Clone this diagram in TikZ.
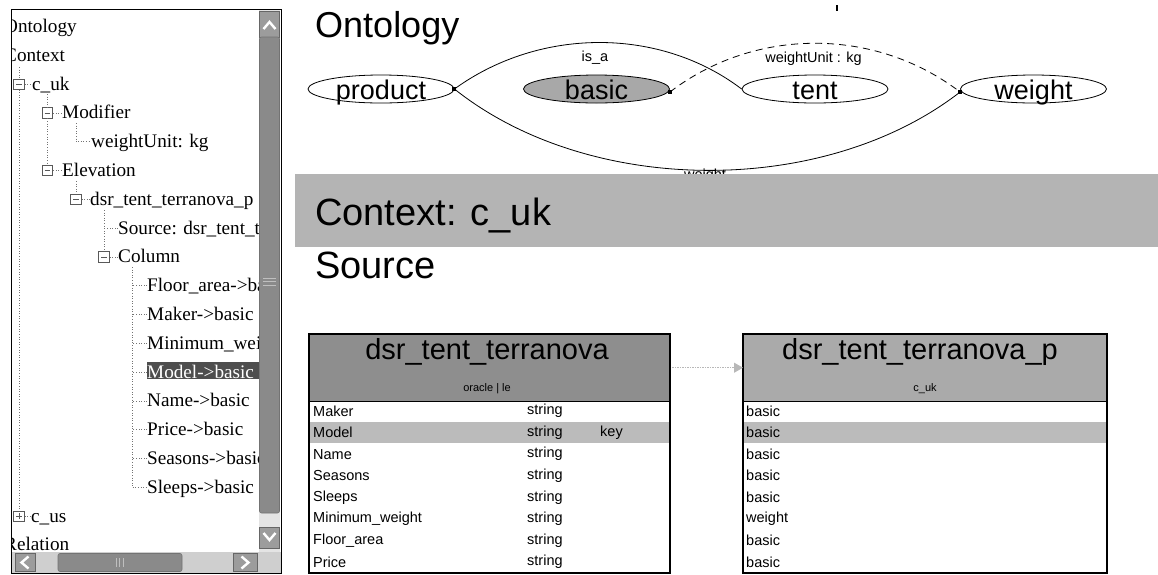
\documentclass[tikz,border=0pt]{standalone}
\usepackage{fontspec}
\setmainfont{Liberation Serif}
\setsansfont{Liberation Sans}
\usetikzlibrary{shapes.geometric,arrows.meta}

\definecolor{bandgray}{HTML}{B4B4B4}
\definecolor{hdrdark}{HTML}{8E8E8E}
\definecolor{hdrlight}{HTML}{AAAAAA}
\definecolor{rowhl}{HTML}{BBBBBB}
\definecolor{basicfill}{HTML}{A8A8A8}
\definecolor{selgray}{HTML}{4E4E4E}
\definecolor{sbthumb}{HTML}{8A8A8A}
\definecolor{sbbtn}{HTML}{9C9C9C}
\definecolor{sbtrack}{HTML}{E4E4E4}
\definecolor{hsbtrack}{HTML}{CFCFCF}
\definecolor{arrowgray}{HTML}{B8B8B8}

\begin{document}
\begin{tikzpicture}[x=1pt,y=-1pt,
  every node/.style={inner sep=0pt},
  tree/.style={anchor=base west, font=\fontsize{19.2}{20}\selectfont},
  xbox/.style={draw=black!65, fill=white, minimum size=10.5pt, line width=0.6pt},
  xminus/.style={xbox, path picture={\draw[line width=0.7pt]
      ([xshift=-2.8pt]path picture bounding box.center) -- ([xshift=2.8pt]path picture bounding box.center);}},
  xplus/.style={xbox, path picture={\draw[line width=0.7pt]
      ([xshift=-2.8pt]path picture bounding box.center) -- ([xshift=2.8pt]path picture bounding box.center)
      ([yshift=-2.8pt]path picture bounding box.center) -- ([yshift=2.8pt]path picture bounding box.center);}},
  treeline/.style={draw=black!55, dotted, line width=0.6pt},
  title/.style={anchor=base west, font=\sffamily\fontsize{38}{40}\selectfont},
  ent/.style={ellipse, draw, line width=0.8pt, minimum width=146pt, minimum height=28pt},
  efont/.style={anchor=base, font=\sffamily\fontsize{27}{28}\selectfont},
  dotsq/.style={fill=black, minimum size=4pt},
  rel/.style={line width=0.8pt},
  elabel/.style={font=\sffamily\fontsize{14.5}{15}\selectfont},
  thdr/.style={anchor=north west, minimum width=#1, minimum height=67pt},
  tbody/.style={anchor=north west, fill=white, minimum width=#1, minimum height=172pt},
  ttitle/.style={font=\sffamily\fontsize{29}{30}\selectfont},
  tsub/.style={font=\sffamily\fontsize{11}{12}\selectfont},
  tcell/.style={anchor=west, font=\sffamily\fontsize{14.5}{15}\selectfont},
  tarrow/.style={draw=arrowgray, line width=1pt, dash pattern=on 1.5pt off 1pt,
      -{Triangle[length=9pt,width=10pt,fill=arrowgray]}}
]
\useasboundingbox (0,0) rectangle (1158,574);

% ---------------- tree panel ----------------
\begin{scope}
\clip (11.5,9.5) rectangle (259,552);
% top level entries
\node[tree] (t0) at (4,32.5) {Ontology};
\node[tree] (t1) at (4,61.3) {Context};
% c_uk
\node[xminus] (b2) at (19,84.1) {};
\node[tree] (t2) at (32,90.1) {c\_uk};
\node[xminus] (b3) at (47.5,112.9) {};
\node[tree] (t3) at (62,118.9) {Modifier};
\node[tree] (t4) at (91,147.7) {weightUnit: kg};
\node[xminus] (b5) at (47.5,170.5) {};
\node[tree] (t5) at (62,176.5) {Elevation};
\node[xminus] (b6) at (76,199.3) {};
\node[tree] (t6) at (90,205.3) {dsr\_tent\_terranova\_p};
\node[tree] (t7) at (118,234.1) {Source: dsr\_tent\_terranova};
\node[xminus] (b8) at (104,256.9) {};
\node[tree] (t8) at (118,262.9) {Column};
\node[tree] (t9) at (147,291.7) {Floor\_area->basic};
\node[tree] (t10) at (147,320.5) {Maker->basic};
\node[tree] (t11) at (147,349.3) {Minimum\_weight->weight};
\node[tree, text=white, fill=selgray, text width=120pt, text depth=1pt, text height=16pt] (t12) at (147,378.1) {Model->basic};
\node[tree] (t13) at (147,406.9) {Name->basic};
\node[tree] (t14) at (147,435.7) {Price->basic};
\node[tree] (t15) at (147,464.5) {Seasons->basic};
\node[tree] (t16) at (147,493.3) {Sleeps->basic};
\node[xplus] (b17) at (19,516.1) {};
\node[tree] (t17) at (31,522.1) {c\_us};
\node[tree] (t18) at (4,550.9) {Relation};

% dotted tree connectors
\coordinate (c0) at (19,67);
\coordinate (c1) at (47.5,94);
\coordinate (c4) at (76,123);
\coordinate (c5) at (76,181);
\coordinate (c6) at (104,210);
\coordinate (c8) at (132,267);
\draw[treeline] (c0) -- (b2.north);
\draw[treeline] (b2.south) -- (b17.north);
\draw[treeline] (b2.east) -- (b2.east -| t2.west);
\draw[treeline] (b17.east) -- (b17.east -| t17.west);
\draw[treeline] (c1) -- (b3.north);
\draw[treeline] (b3.south) -- (b5.north);
\draw[treeline] (b3.east) -- (b3.east -| t3.west);
\draw[treeline] (b5.east) -- (b5.east -| t5.west);
\draw[treeline] (c4) |- ([yshift=6pt]t4.base west);
\draw[treeline] (c5) -- (b6.north);
\draw[treeline] (b6.east) -- (b6.east -| t6.west);
\draw[treeline] (c6) -- (b8.north);
\draw[treeline] ([yshift=6pt]t7.base west) -- ([yshift=6pt]t7.base west -| b8);
\draw[treeline] (b8.east) -- (b8.east -| t8.west);
\draw[treeline] (c8) |- ([yshift=6pt]t16.base west);
\foreach \k in {9,...,15}
  \draw[treeline] ([yshift=6pt]t\k.base west) -- ++(-15,0);
\end{scope}

% vertical scroll bar
\fill[sbtrack] (259,10) rectangle (280,552);
\draw[fill=sbbtn, draw=black!60, line width=0.6pt] (259.5,11) rectangle (279.5,37);
\draw[white, line width=2.4pt] (263.5,29) -- (269.5,22) -- (275.5,29);
\draw[fill=sbthumb, draw=black!55, line width=0.6pt, rounded corners=2pt] (259.5,37) rectangle (279.5,513);
\foreach \g in {278,281.5,285} \draw[black!25, line width=0.8pt] (263,\g) -- (276,\g);
\draw[fill=sbbtn, draw=black!60, line width=0.6pt] (259.5,527) rectangle (279.5,548);
\draw[white, line width=2.4pt] (263.5,533) -- (269.5,540) -- (275.5,533);

% horizontal scroll bar
\fill[hsbtrack] (12,552) rectangle (281,573);
\draw[fill=sbbtn, draw=black!60, line width=0.6pt] (15,553.5) rectangle (35,571.5);
\draw[white, line width=2.4pt] (28.5,556.5) -- (21.5,562.5) -- (28.5,568.5);
\draw[fill=sbthumb, draw=black!55, line width=0.6pt, rounded corners=2pt] (58,553.5) rectangle (182,571.5);
\foreach \g in {116,119.5,123} \draw[black!25, line width=0.8pt] (\g,558) -- (\g,567);
\draw[fill=sbbtn, draw=black!60, line width=0.6pt] (233,553.5) rectangle (257,571.5);
\draw[white, line width=2.4pt] (241.5,556.5) -- (248.5,562.5) -- (241.5,568.5);

% panel frame
\draw[line width=0.8pt] (11,9) rectangle (281.5,573.5);

% ---------------- ontology graph ----------------
\node[title, font=\sffamily\fontsize{36}{38}\selectfont] (ontt) at (315,37) {Ontology};
\draw[line width=1.6pt] (837,5) -- (837,11);

\node[ent] (product) at (381,89) {};
\node[ent, fill=basicfill] (basic) at (596.5,89) {};
\node[ent] (tent) at (815,89) {};
\node[ent] (weight) at (1033.5,89) {};
\node[efont] (productt) at ([yshift=-10pt]product.center) {product};
\node[efont] (basict) at ([yshift=-10pt]basic.center) {basic};
\node[efont] (tentt) at ([yshift=-10pt]tent.center) {tent};
\node[efont] (weightt) at ([yshift=-10pt]weight.center) {weight};

\node[dotsq] (pd) at (product.east) {};
\node[dotsq] (bd) at ([yshift=-3pt]basic.east) {};
\node[dotsq] (wd) at ([yshift=-3pt]weight.west) {};

% is_a : product -> tent
\draw[rel] (pd.center) .. controls (540,27) and (660,27) .. (tent.west);
\node[elabel] (isa) at (595,58) {is\_a};
% weightUnit : basic -> weight
\draw[rel, dash pattern=on 7pt off 5pt] (bd.center) .. controls (755,27) and (875,27) .. (wd.center);
\node[elabel] (wul) at (813.5,59) {weightUnit : kg};
% weight : product -> weight
\draw[rel] (pd.center) .. controls (590,197) and (825,197) .. (wd.center);
\node[elabel, anchor=base] (wl) at (705,179) {weight};

% ---------------- context band ----------------
\fill[bandgray] (295,174) rectangle (1158,247);
\node[title] (ctx) at (315,225) {Context: c\_uk};
\node[title] (src) at (315,278) {Source};

% ---------------- source table ----------------
\node[tbody=361pt] (lb) at (309,401) {};
\fill[rowhl] (309,422) rectangle (670,443);
\node[thdr=361pt, fill=hdrdark] (lt) at (309,334) {};
\node[ttitle] (ltt) at (487,352) {dsr\_tent\_terranova};
\node[tsub] (lts) at (487,389) {oracle | le};
\foreach \n/\t/\k [count=\i from 0] in {Maker/string/,Model/string/key,Name/string/,Seasons/string/,Sleeps/string/,Minimum\_weight/string/,Floor\_area/string/,Price/string/} {
  \node[tcell] at (313,411+21.6*\i) {\n};
  \node[tcell] at (527,411+21.6*\i) {\t};
  \node[tcell] at (600,411+21.6*\i) {\k};
}
\draw[line width=1.2pt] (309,334) rectangle (670,573);
\draw[line width=1.6pt] (lt.south west) -- (lt.south east);

% ---------------- elevated table ----------------
\node[tbody=364pt] (rb) at (743,401) {};
\fill[rowhl] (743,422) rectangle (1107,443);
\node[thdr=364pt, fill=hdrlight] (rt) at (743,334) {};
\node[ttitle] (rtt) at (920,352) {dsr\_tent\_terranova\_p};
\node[tsub] (rts) at (925,389) {c\_uk};
\foreach \n [count=\i from 0] in {basic,basic,basic,basic,basic,weight,basic,basic}
  \node[tcell] at (746,411+21.6*\i) {\n};
\draw[line width=1.2pt] (743,334) rectangle (1107,573);
\draw[line width=1.6pt] (rt.south west) -- (rt.south east);

% elevation link
\draw[tarrow] ([xshift=2pt]lt.east) -- (rt.west);
\end{tikzpicture}
\end{document}
